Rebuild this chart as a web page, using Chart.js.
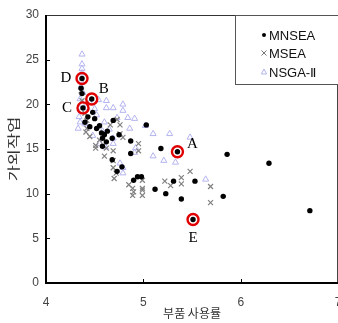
<!DOCTYPE html>
<html>
<head>
<meta charset="utf-8">
<script src="https://cdn.jsdelivr.net/npm/chart.js@4.4.1/dist/chart.umd.min.js"></script>
<style>
  html, body { margin: 0; padding: 0; background: #fff; overflow: hidden; }
  #wrap { width: 346px; height: 323px; }
</style>
</head>
<body>
<div id="wrap"><canvas id="chart"></canvas></div>
<script>
// 데이터
const mnseaX = [4.37, 4.36, 4.37, 4.38, 4.47, 4.48, 4.43, 4.40, 4.45, 4.52, 4.50, 4.57, 4.58, 4.60, 4.68, 4.69, 4.63, 4.58, 4.75, 4.68, 4.73, 4.87, 4.87, 4.94, 4.98, 5.03, 5.18, 5.35, 5.12, 5.23, 5.31, 5.39, 5.53, 5.51, 5.82, 5.86, 6.29, 6.71, 4.55, 4.62, 4.78, 4.90];
const mnseaY = [22.9, 21.8, 21.2, 19.6, 20.6, 19.1, 18.6, 18.0, 17.5, 17.3, 18.4, 16.8, 16.2, 16.6, 16.2, 18.2, 17.0, 15.3, 16.6, 13.8, 12.5, 15.9, 14.5, 11.9, 11.9, 17.7, 15.05, 14.7, 10.5, 10.0, 11.4, 9.4, 11.4, 7.1, 9.7, 14.4, 13.4, 8.1, 17.6, 15.8, 13.0, 11.5];

const mseaX = [4.36, 4.37, 4.40, 4.42, 4.41, 4.42, 4.45, 4.51, 4.51, 4.55, 4.62, 4.66, 4.73, 4.76, 4.76, 4.79, 4.69, 4.69, 4.69, 4.70, 4.72, 4.89, 4.89, 4.90, 4.95, 4.95, 4.99, 4.99, 4.99, 4.99, 5.22, 5.28, 5.39, 5.39, 5.48, 5.69, 5.69, 4.60, 4.85];
const mseaY = [21.5, 20.4, 19.0, 18.2, 16.9, 17.3, 16.4, 15.4, 15.1, 16.0, 15.1, 17.7, 18.3, 17.7, 16.7, 16.3, 14.8, 13.7, 12.9, 11.7, 12.3, 10.6, 9.8, 10.2, 15.6, 14.8, 11.5, 10.6, 10.4, 9.8, 11.4, 10.9, 11.8, 11.1, 12.5, 10.8, 9.0, 14.2, 11.0];

const nsgaX = [4.37, 4.37, 4.37, 4.37, 4.36, 4.36, 4.38, 4.35, 4.37, 4.36, 4.34, 4.35, 4.33, 4.40, 4.42, 4.45, 4.48, 4.50, 4.54, 4.62, 4.62, 4.69, 4.79, 4.79, 4.73, 4.84, 4.91, 4.86, 4.60, 4.65, 4.55, 4.69, 4.69, 4.61, 4.76, 4.79, 4.79, 4.91, 4.92, 5.02, 5.10, 5.27, 5.48, 5.10, 5.21, 5.33, 5.64, 4.58, 4.52];
const nsgaY = [25.6, 24.5, 24.0, 23.5, 22.6, 22.0, 21.3, 20.6, 20.0, 19.3, 18.6, 18.0, 17.3, 17.8, 19.6, 20.2, 16.5, 19.5, 20.5, 20.4, 19.6, 19.6, 20.0, 19.3, 18.5, 18.5, 18.4, 17.3, 18.0, 17.2, 15.6, 16.2, 15.6, 15.2, 13.4, 12.9, 12.3, 14.6, 15.1, 17.6, 16.7, 16.7, 16.3, 14.2, 13.7, 13.5, 11.6, 17.0, 18.8];

// 표시된 해 A~E
const markNames = ['A', 'B', 'C', 'D', 'E'];
const markX = [5.35, 4.47, 4.38, 4.37, 5.51];
const markY = [14.7, 20.6, 19.6, 22.9, 7.1];

const xTicks = [4, 5, 6, 7];
const yTicks = [0, 5, 10, 15, 20, 25, 30];
const yTitle = '가외작업';

const toPoints = (xs, ys) => xs.map((x, i) => ({ x: x, y: ys[i] }));

// 라벨 위치 (점 기준 픽셀 오프셋)
const labelOffset = { A: [15, -8], B: [12, -10], C: [-16, 0], D: [-16, 0], E: [0, 18] };

const framePlugin = {
    id: 'frame',
    afterDatasetsDraw(chart) {
        const ctx = chart.ctx;
        const a = chart.chartArea;
        const xs = chart.scales.x, ys = chart.scales.y;
        ctx.save();
        // 안쪽 눈금
        ctx.strokeStyle = '#000';
        ctx.lineWidth = 1;
        ctx.beginPath();
        yTicks.slice(1, -1).forEach(v => {
            const py = Math.round(ys.getPixelForValue(v)) + 0.5;
            ctx.moveTo(a.left, py); ctx.lineTo(a.left + 4, py);
        });
        xTicks.slice(1, -1).forEach(v => {
            const px = Math.round(xs.getPixelForValue(v)) + 0.5;
            ctx.moveTo(px, a.bottom); ctx.lineTo(px, a.bottom - 4);
        });
        ctx.stroke();
        // 테두리
        ctx.strokeStyle = '#333';
        ctx.beginPath();
        ctx.moveTo(a.left, a.top + 0.5); ctx.lineTo(a.right, a.top + 0.5);
        ctx.moveTo(a.right - 0.5, a.top); ctx.lineTo(a.right - 0.5, a.bottom);
        ctx.stroke();
        ctx.strokeStyle = '#000';
        ctx.lineWidth = 2;
        ctx.beginPath();
        ctx.moveTo(a.left, a.top); ctx.lineTo(a.left, a.bottom);
        ctx.lineTo(a.right, a.bottom);
        ctx.stroke();

        // y축 제목 (세로로 늘인 글꼴)
        ctx.save();
        ctx.translate(13, (a.top + a.bottom) / 2);
        ctx.rotate(-Math.PI / 2);
        ctx.scale(1.35, 1);
        ctx.fillStyle = '#333';
        ctx.font = '13px "Noto Sans CJK KR", sans-serif';
        ctx.textAlign = 'center';
        ctx.textBaseline = 'middle';
        ctx.fillText(yTitle, 0, 0);
        ctx.restore();

        // A~E 라벨
        const meta = chart.getDatasetMeta(3);
        ctx.fillStyle = '#000';
        ctx.font = '15px "Liberation Serif", serif';
        ctx.textAlign = 'center';
        ctx.textBaseline = 'middle';
        meta.data.forEach((pt, i) => {
            const off = labelOffset[markNames[i]];
            ctx.fillText(markNames[i], pt.x + off[0], pt.y + off[1]);
        });

        // 범례
        const lx = 235, ly = 15, lw = 110, lh = 69;
        ctx.fillStyle = '#fff';
        ctx.fillRect(lx, ly, lw, lh);
        ctx.strokeStyle = '#555';
        ctx.lineWidth = 1;
        ctx.strokeRect(lx + 0.5, ly + 0.5, lw, lh);
        const items = [
            { name: 'MNSEA', y: 35 },
            { name: 'MSEA', y: 53 },
            { name: 'NSGA-Ⅱ', y: 72 }
        ];
        ctx.font = '13px "Liberation Sans", Arial, sans-serif';
        ctx.textAlign = 'left';
        items.forEach((it, i) => {
            const mx = 264;
            ctx.beginPath();
            if (i === 0) {
                ctx.fillStyle = '#000';
                ctx.arc(mx, it.y, 2, 0, Math.PI * 2);
                ctx.fill();
            } else if (i === 1) {
                ctx.strokeStyle = '#777';
                ctx.moveTo(mx - 2.5, it.y - 2.5); ctx.lineTo(mx + 2.5, it.y + 2.5);
                ctx.moveTo(mx + 2.5, it.y - 2.5); ctx.lineTo(mx - 2.5, it.y + 2.5);
                ctx.stroke();
            } else {
                ctx.strokeStyle = '#b4b4f0';
                ctx.moveTo(mx, it.y - 3); ctx.lineTo(mx + 2.6, it.y + 2); ctx.lineTo(mx - 2.6, it.y + 2);
                ctx.closePath();
                ctx.stroke();
            }
            ctx.fillStyle = '#111';
            ctx.fillText(it.name, 269, it.y + 1);
        });
        ctx.restore();
    }
};

const tickFont = { family: '"Liberation Sans", Arial, sans-serif', size: 12, lineHeight: 1 };
const titleFont = { family: '"Noto Sans CJK KR", sans-serif', size: 12, lineHeight: 1 };

new Chart(document.getElementById('chart'), {
    type: 'scatter',
    data: {
        datasets: [
            {
                label: 'MNSEA',
                data: toPoints(mnseaX, mnseaY),
                pointStyle: 'circle',
                pointRadius: 2.7,
                backgroundColor: '#000',
                borderColor: '#000',
                borderWidth: 0,
                order: 1
            },
            {
                label: 'MSEA',
                data: toPoints(mseaX, mseaY),
                pointStyle: 'crossRot',
                pointRadius: 3.5,
                borderColor: '#808080',
                borderWidth: 1.2,
                order: 2
            },
            {
                label: 'NSGA-Ⅱ',
                data: toPoints(nsgaX, nsgaY),
                pointStyle: 'triangle',
                pointRadius: 3.5,
                backgroundColor: 'rgba(255,255,255,0)',
                borderColor: '#b4b4f0',
                borderWidth: 1,
                order: 3
            },
            {
                label: 'marks',
                data: toPoints(markX, markY),
                pointStyle: 'circle',
                pointRadius: 5.5,
                backgroundColor: 'rgba(255,255,255,0)',
                borderColor: '#e00000',
                borderWidth: 2.4,
                order: 0
            }
        ]
    },
    options: {
        responsive: true,
        maintainAspectRatio: false,
        animation: false,
        layout: { padding: { top: 15, left: 0, right: 0, bottom: 0 } },
        plugins: {
            legend: { display: false },
            tooltip: { enabled: false }
        },
        scales: {
            x: {
                type: 'linear',
                min: 4,
                max: 7,
                afterBuildTicks: s => { s.ticks = xTicks.map(v => ({ value: v })); },
                afterFit: s => { s.height = 40; },
                grid: { display: false, drawTicks: true, tickLength: 14 },
                border: { display: false },
                ticks: { color: '#444', font: tickFont, padding: 0, maxRotation: 0 },
                title: { display: true, text: '부품 사용률', color: '#333', font: titleFont, padding: { top: 0, bottom: 4 } }
            },
            y: {
                type: 'linear',
                min: 0,
                max: 30,
                afterBuildTicks: s => { s.ticks = yTicks.map(v => ({ value: v })); },
                afterFit: s => { s.width = 46; },
                grid: { display: false, drawTicks: true, tickLength: 7 },
                border: { display: false },
                ticks: { color: '#444', font: tickFont, padding: 0 },
                title: { display: false }
            }
        }
    },
    plugins: [framePlugin]
});
</script>
</body>
</html>
